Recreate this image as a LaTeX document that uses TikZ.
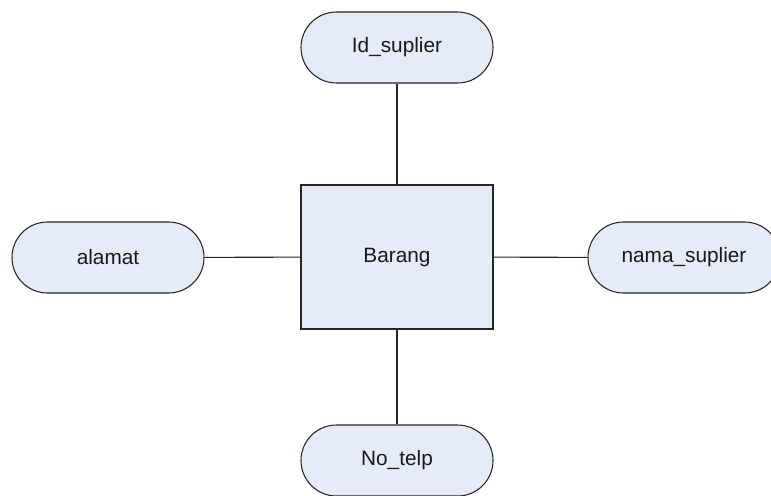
\documentclass[tikz,border=0pt]{standalone}
\usepackage{fontspec}
\setmainfont{Liberation Sans}
\begin{document}
\begin{tikzpicture}[x=0.75pt, y=-0.75pt,
  every node/.style={font=\fontsize{15.6pt}{18pt}\selectfont, text=black!90},
  entity/.style={draw=black!85, line width=0.8pt, fill=fillblue, rectangle,
    minimum width=144pt, minimum height=108pt, inner sep=0pt},
  attr/.style={draw=black!85, line width=0.8pt, fill=fillblue, rectangle,
    rounded corners=26.6pt, minimum width=144pt, minimum height=53.25pt, inner sep=0pt},
  link/.style={draw=black!85, line width=0.8pt}]
\definecolor{fillblue}{RGB}{230,236,247}
\useasboundingbox (0,0) rectangle (771,496);
\clip (0,0) rectangle (771,496);
\fill[white] (0,0) rectangle (771,496);

% entity
\node[entity] (barang) at (397,257) {Barang};

% attributes
\node[attr] (id)    at (397,47.5)  {Id\_suplier};
\node[attr] (alamat) at (108,257.5) {alamat};
\node[attr] (nama)  at (684,257.5) {nama\_suplier};
\node[attr] (telp)  at (397,460.5) {No\_telp};

% connectors
\draw[link] (id) -- (barang);
\draw[link] (alamat) -- (barang);
\draw[link] (barang) -- (nama);
\draw[link] (barang) -- (telp);
\end{tikzpicture}
\end{document}
